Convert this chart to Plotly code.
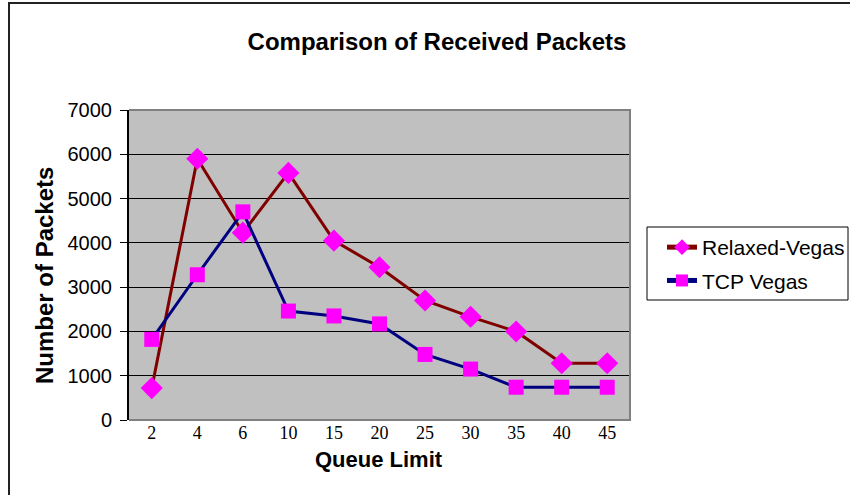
import plotly.graph_objects as go

queue_limits = ["2", "4", "6", "10", "15", "20", "25", "30", "35", "40", "45"]
relaxed_vegas = [720, 5900, 4230, 5580, 4050, 3450, 2700, 2330, 2000, 1280, 1280]
tcp_vegas = [1820, 3280, 4700, 2460, 2350, 2170, 1480, 1150, 740, 740, 740]

y_ticks = [0, 1000, 2000, 3000, 4000, 5000, 6000, 7000]

W, H = 850, 495
L, R, T, B = 129, 220, 110, 75
pw, ph = W - L - R, H - T - B


def px_x(p):
    return (p - L) / pw


def px_y(p):
    return (H - B - p) / ph


fig = go.Figure()
fig.add_trace(go.Scatter(
    x=queue_limits, y=relaxed_vegas, name="Relaxed-Vegas", mode="lines+markers",
    legendgroup="a",
    line=dict(color="#800000", width=3),
    marker=dict(symbol="diamond", size=17, color="#FF00FF"),
))
fig.add_trace(go.Scatter(
    x=queue_limits, y=tcp_vegas, name="TCP Vegas", mode="lines+markers",
    legendgroup="b",
    line=dict(color="#000080", width=3),
    marker=dict(symbol="square", size=15, color="#FF00FF"),
))

# plot-area frame (top, right, bottom) in grey
fig.add_shape(type="path", xref="paper", yref="paper",
              path="M 0,1 L 1,1 L 1,0 L 0,0",
              line=dict(color="#808080", width=2), layer="above")
# outer chart frame: left and top edges
fig.add_shape(type="path", xref="paper", yref="paper",
              path=f"M {px_x(9)},{px_y(520)} L {px_x(9)},{px_y(3)} L {px_x(900)},{px_y(3)}",
              line=dict(color="#222222", width=2))
# legend box
fig.add_shape(type="rect", xref="paper", yref="paper",
              x0=px_x(647), x1=px_x(848), y0=px_y(300), y1=px_y(227),
              line=dict(color="black", width=1), fillcolor="white", layer="below")

fig.add_annotation(text="<b>Number of Packets</b>", xref="paper", yref="paper",
                   x=px_x(44), y=px_y(276), textangle=-90, showarrow=False,
                   xanchor="center", yanchor="middle",
                   font=dict(family="Liberation Sans", size=24, color="black"))
fig.add_annotation(text="<b>Queue Limit</b>", xref="paper", yref="paper",
                   x=px_x(379), y=px_y(460), showarrow=False,
                   xanchor="center", yanchor="middle",
                   font=dict(family="Liberation Sans", size=22, color="black"))

fig.update_layout(
    width=W, height=H,
    margin=dict(l=L, r=R, t=T, b=B, autoexpand=False),
    paper_bgcolor="white", plot_bgcolor="#C0C0C0",
    title=dict(text="<b>Comparison of Received Packets</b>",
               x=437 / W, xanchor="center", y=1 - 42 / H, yanchor="middle",
               font=dict(family="Liberation Sans", size=24, color="black")),
    showlegend=True,
    legend=dict(x=px_x(662), y=px_y(227), xanchor="left", yanchor="top",
                borderwidth=0, bgcolor="rgba(0,0,0,0)",
                font=dict(family="Liberation Sans", size=21, color="black"),
                tracegroupgap=3, itemsizing="constant"),
    font=dict(family="Liberation Sans", color="black"),
)

fig.update_xaxes(
    type="category", range=[-0.5, 10.5], showgrid=False, zeroline=False,
    showline=False, ticks="",
    tickfont=dict(family="Liberation Serif", size=18, color="black"),
)
fig.update_yaxes(
    range=[0, 7000], tickvals=y_ticks, showgrid=True, gridcolor="black",
    gridwidth=1, zeroline=False, showline=True, linecolor="black", linewidth=2,
    ticks="outside", ticklen=7, tickcolor="black", ticklabelstandoff=4,
    tickfont=dict(family="Liberation Sans", size=20, color="black"),
)

fig.write_html("out.html")
